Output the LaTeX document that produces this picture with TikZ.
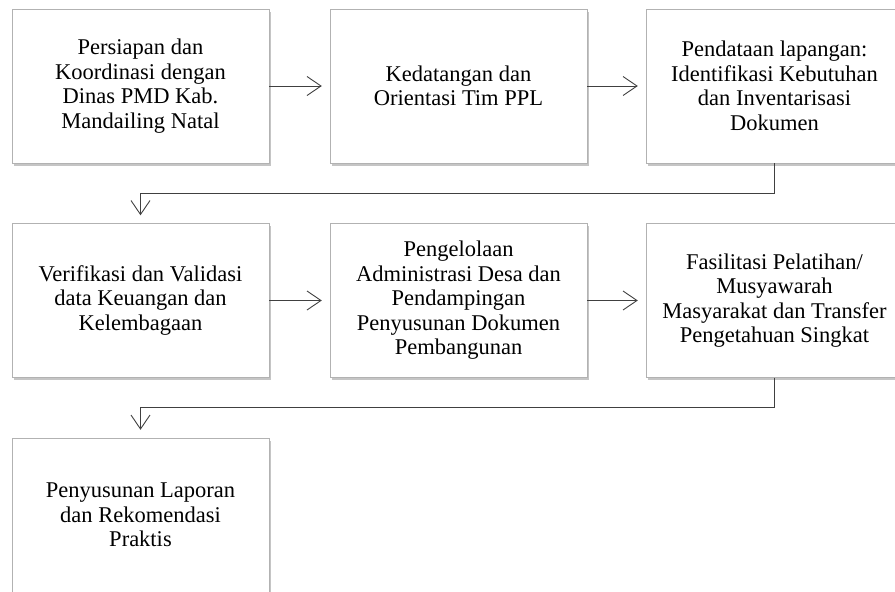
\documentclass[tikz,border=0pt]{standalone}
\usepackage{fontspec}
\setmainfont{Liberation Serif}
\usetikzlibrary{arrows.meta}
\usetikzlibrary{shadows}

\begin{document}
\begin{tikzpicture}[x=1pt,y=1pt,
    tahap/.style={draw=gray!60, fill=white, rectangle, align=center, minimum width=257pt, minimum height=154pt, inner sep=0pt, font=\fontsize{22.5}{24.5}\selectfont, drop shadow={shadow xshift=2pt,shadow yshift=-2.5pt,fill=black!45}},
    panah/.style={-{Straight Barb[length=14pt,width=19pt]}, draw=black!75, line width=0.9pt, shorten >=8pt}]
            \useasboundingbox (0,0) rectangle (895,-592);
            \node[tahap] (persiapan) at (140.5,-86) {Persiapan dan\\Koordinasi dengan\\Dinas PMD Kab.\\Mandailing Natal};
            \node[tahap] (kedatangan) at (458.5,-86) {Kedatangan dan\\Orientasi Tim PPL};
            \node[tahap] (pendataan) at (774.5,-86) {Pendataan lapangan:\\Identifikasi Kebutuhan\\dan Inventarisasi\\Dokumen};
            \node[tahap] (verifikasi) at (140.5,-300.5) {Verifikasi dan Validasi\\data Keuangan dan\\Kelembagaan};
            \node[tahap] (pengelolaan) at (458.5,-300.5) {Pengelolaan\\Administrasi Desa dan\\Pendampingan\\Penyusunan Dokumen\\Pembangunan};
            \node[tahap] (fasilitasi) at (774.5,-300.5) {Fasilitasi Pelatihan/\\Musyawarah\\Masyarakat dan Transfer\\Pengetahuan Singkat};
            \node[tahap] (laporan) at (140.5,-515) {Penyusunan Laporan\\dan Rekomendasi\\Praktis};
            
            \draw[panah] (persiapan) -- (kedatangan);
            \draw[panah] (kedatangan) -- (pendataan);
            \draw[panah] (pendataan.south) -- ++(0,-30) -| (verifikasi.north);
            \draw[panah] (verifikasi) -- (pengelolaan);
            \draw[panah] (pengelolaan) -- (fasilitasi);
            \draw[panah] (fasilitasi.south) -- ++(0,-30) -| (laporan.north);
        \end{tikzpicture}
\end{document}
